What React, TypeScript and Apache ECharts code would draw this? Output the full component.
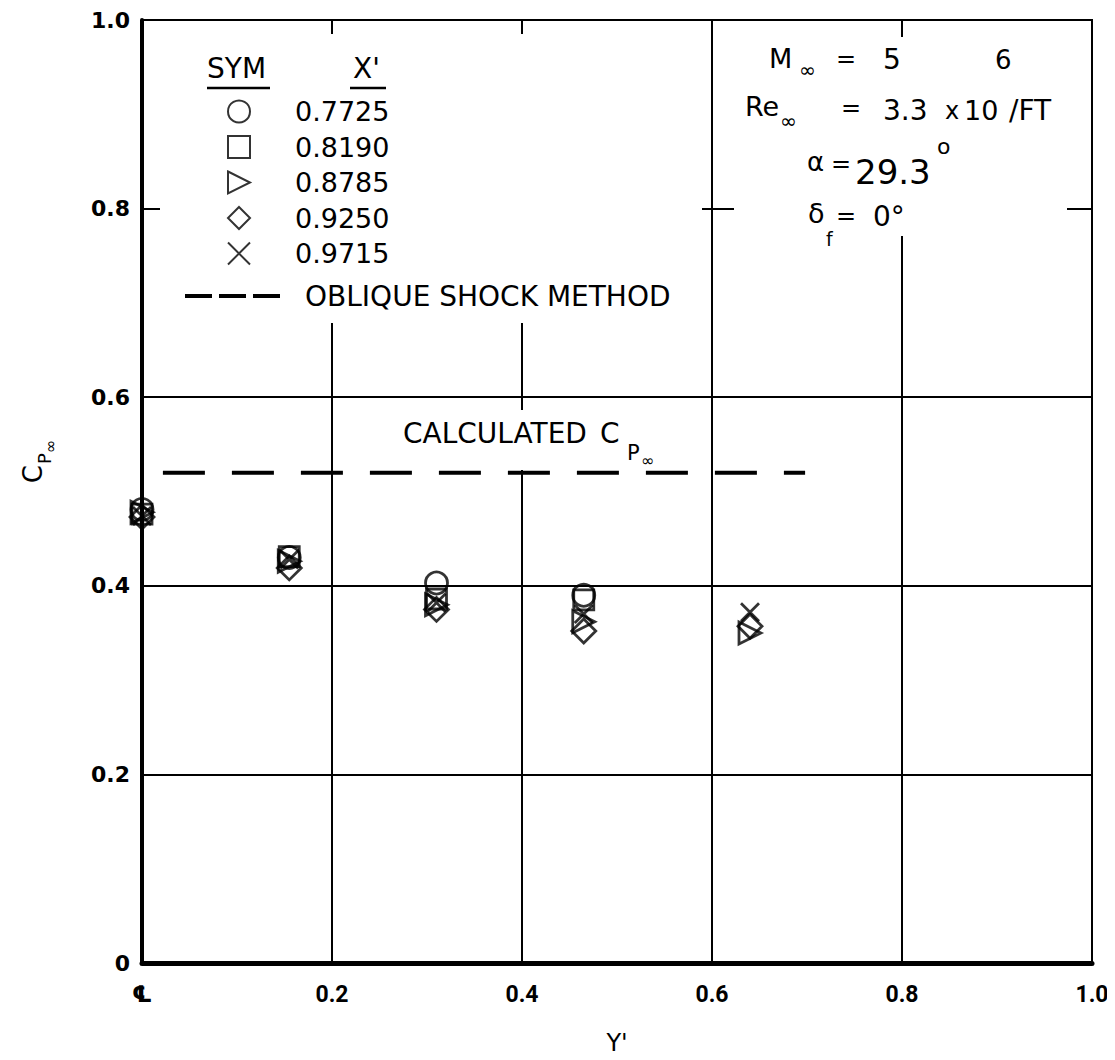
import React, { useEffect, useRef } from 'react';
import * as echarts from 'echarts';

// ---- data ----
const stations = [0, 0.155, 0.31, 0.465, 0.64]; // Y'
const xPrimeNames = ['0.7725', '0.8190', '0.8785', '0.9250', '0.9715'];
const cp7725 = [0.481, 0.43, 0.403, 0.39, null];
const cp8190 = [0.476, 0.431, 0.386, 0.385, null];
const cp8785 = [0.478, 0.426, 0.38, 0.362, 0.35];
const cp9250 = [0.473, 0.419, 0.375, 0.352, 0.357];
const cp9715 = [0.474, 0.428, 0.382, 0.37, 0.372];
const obliqueYRange = [0.022, 0.698];
const obliqueCp = 0.52;
const obliqueName = 'OBLIQUE SHOCK METHOD';

const FONT = '"DejaVu Sans", sans-serif';
const TICKFONT = '"DejaVu Sans", sans-serif';
const XTICKFONT = 'Roboto, "DejaVu Sans", sans-serif';

const seriesValues = [cp7725, cp8190, cp8785, cp9250, cp9715];
const symbols = [
  'circle',
  'rect',
  'path://M0,0L10,5L0,10Z',
  'diamond',
  'path://M0,0L10,10M0,10L10,0',
];
const sizes = [22, 20, 22, 24, 18];

export default function App() {
  const ref = useRef<HTMLDivElement>(null);
  useEffect(() => {
    const chart = echarts.init(ref.current!, null, { renderer: 'svg' });

    const scatterSeries = seriesValues.map((vals, k) => ({
      type: 'scatter',
      name: xPrimeNames[k],
      symbol: symbols[k],
      symbolSize: sizes[k],
      clip: false,
      z: 3,
      itemStyle: { color: 'rgba(0,0,0,0)', borderColor: '#000', borderWidth: 2.8 },
      data: stations
        .map((s, i) => (vals[i] == null ? null : [s, vals[i]]))
        .filter((d) => d !== null),
    }));

    const txt = (text: string, x: number, y: number, size = 26) => ({
      type: 'text',
      x,
      y,
      z: 10,
      style: {
        text,
        fill: '#000',
        font: `normal ${size}px ${FONT}`,
        textVerticalAlign: 'middle',
        textAlign: 'left',
      },
    });

    const option: any = {
      animation: false,
      grid: {
        left: 142,
        right: 23,
        top: 20,
        bottom: 90,
        show: true,
        borderColor: '#000',
        borderWidth: 2,
      },
      xAxis: {
        type: 'value',
        min: 0,
        max: 1,
        interval: 0.2,
        name: "Y'",
        nameLocation: 'middle',
        nameGap: 68,
        nameTextStyle: { fontFamily: FONT, fontSize: 24, color: '#000' },
        axisLine: { lineStyle: { color: '#000', width: 5 } },
        axisTick: { show: false },
        splitLine: { lineStyle: { color: '#000', width: 2 } },
        axisLabel: {
          color: '#000',
          fontFamily: XTICKFONT,
          fontWeight: 'bold',
          fontSize: 23,
          margin: 20,
          formatter: (v: number) => (v === 0 ? '℄' : v === 1 ? '1.0' : v.toFixed(1)),
        },
      },
      yAxis: {
        type: 'value',
        min: 0,
        max: 1,
        interval: 0.2,
        name: '{c|C}{p|P}{i|∞}',
        nameLocation: 'middle',
        nameRotate: 90,
        nameGap: 84,
        nameTextStyle: {
          color: '#000',
          padding: [0, 0, 0, 60],
          rich: {
            c: { fontFamily: FONT, fontSize: 26, verticalAlign: 'top', color: '#000' },
            p: { fontFamily: FONT, fontSize: 18, verticalAlign: 'top', padding: [15, 0, 0, 1], color: '#000' },
            i: { fontFamily: FONT, fontSize: 16, verticalAlign: 'top', padding: [22, 0, 0, 0], color: '#000' },
          },
        },
        axisLine: { lineStyle: { color: '#000', width: 4 } },
        axisTick: { show: false },
        splitLine: { lineStyle: { color: '#000', width: 2 } },
        axisLabel: {
          color: '#000',
          fontFamily: TICKFONT,
          fontWeight: 'bold',
          fontSize: 22,
          margin: 12,
          formatter: (v: number) => (v === 0 ? '0' : v === 1 ? '1.0' : v.toFixed(1)),
        },
      },
      legend: [
        {
          data: xPrimeNames,
          orient: 'vertical',
          left: 227,
          top: 98,
          itemWidth: 22,
          itemHeight: 22,
          itemGap: 8.5,
          selectedMode: false,
          padding: 0,
          textStyle: {
            fontFamily: FONT,
            fontSize: 27,
            lineHeight: 22,
            color: '#000',
            padding: [0, 0, 0, 40],
          },
        },
        {
          data: [
            {
              name: obliqueName,
              itemStyle: { color: 'rgba(0,0,0,0)', borderWidth: 0, opacity: 0 },
              lineStyle: { type: [27, 7], width: 4, color: '#000' },
            },
          ],
          left: 183,
          top: 282,
          itemWidth: 102,
          itemHeight: 14,
          selectedMode: false,
          padding: 0,
          textStyle: {
            fontFamily: FONT,
            fontSize: 28,
            lineHeight: 22,
            color: '#000',
            padding: [0, 0, 0, 13],
          },
        },
      ],
      series: [
        ...scatterSeries,
        {
          type: 'line',
          name: obliqueName,
          symbol: 'none',
          z: 2,
          lineStyle: { color: '#000', width: 4, type: [42, 27] },
          itemStyle: { color: '#000' },
          data: obliqueYRange.map((x) => [x, obliqueCp]),
        },
      ],
      graphic: [
        // blank panels behind the key and the flight conditions
        { type: 'rect', z: 1, shape: { x: 160, y: 34, width: 542, height: 289 }, style: { fill: '#fff' } },
        { type: 'rect', z: 1, shape: { x: 734, y: 37, width: 333, height: 199 }, style: { fill: '#fff' } },
        { type: 'rect', z: 1, shape: { x: 398, y: 410, width: 264, height: 60 }, style: { fill: '#fff' } },
        // key header
        txt('SYM', 207, 68, 28),
        txt("X'", 353, 68, 28),
        { type: 'line', z: 10, shape: { x1: 207, y1: 88, x2: 270, y2: 88 }, style: { stroke: '#000', lineWidth: 2.5 } },
        { type: 'line', z: 10, shape: { x1: 350, y1: 88, x2: 386, y2: 88 }, style: { stroke: '#000', lineWidth: 2.5 } },
        // flight conditions
        txt('M', 769, 58, 27),
        txt('∞', 799, 70, 20),
        txt('=', 836, 59, 24),
        txt('5', 883, 59, 28),
        txt('Re', 745, 106, 27),
        txt('∞', 780, 121, 20),
        txt('=', 841, 108, 24),
        txt('3.3', 883, 110, 28),
        txt('x', 945, 111, 24),
        txt('10', 964, 110, 27),
        txt('6', 995, 60, 26),
        txt('/FT', 1009, 110, 28),
        txt('α', 807, 162, 26),
        txt('=', 831, 164, 24),
        txt('29.3', 855, 172, 34),
        txt('o', 937, 146, 22),
        txt('δ', 808, 213, 27),
        txt('f', 826, 239, 19),
        txt('=', 836, 216, 24),
        txt('0°', 873, 216, 28),
        // calculated label
        txt('CALCULATED', 403, 433, 28),
        txt('C', 600, 433, 28),
        txt('P', 627, 453, 21),
        txt('∞', 641, 460, 16),
      ],
    };
    chart.setOption(option);
    return () => chart.dispose();
  }, []);
  return <div ref={ref} style={{ width: 1115, height: 1060, margin: -8 }} />;
}
